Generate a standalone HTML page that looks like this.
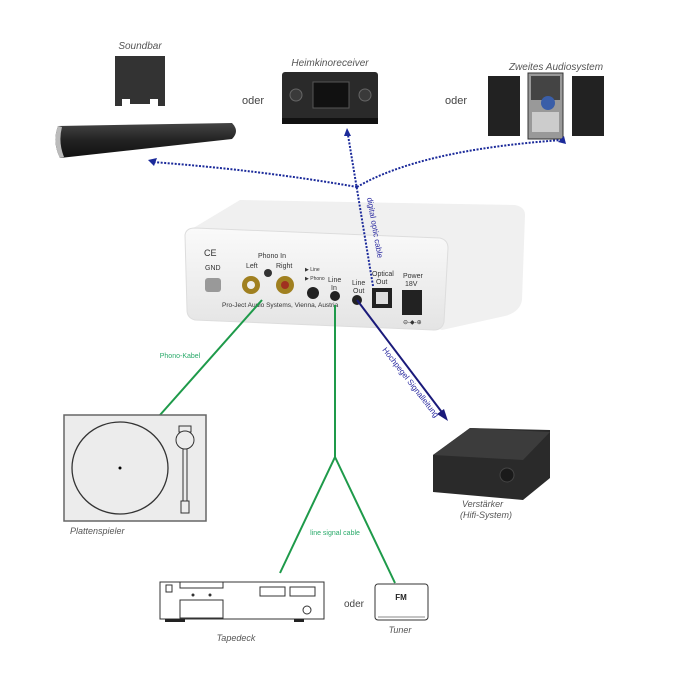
<!DOCTYPE html>
<html><head><meta charset="utf-8"><style>
html,body{margin:0;padding:0;background:#fff;}
svg{display:block;font-family:"Liberation Sans",sans-serif;}
</style></head><body>
<svg width="688" height="688" viewBox="0 0 688 688" xmlns="http://www.w3.org/2000/svg">
<defs>
<linearGradient id="bar" x1="0" y1="0" x2="0" y2="1"><stop offset="0" stop-color="#444"/><stop offset="0.5" stop-color="#222"/><stop offset="1" stop-color="#111"/></linearGradient>
<linearGradient id="box" x1="0" y1="0" x2="0" y2="1"><stop offset="0" stop-color="#fafafa"/><stop offset="1" stop-color="#e4e4e4"/></linearGradient>
</defs>
<g font-style="italic" fill="#555" font-size="10">
<text x="140" y="49" text-anchor="middle">Soundbar</text>
<text x="330" y="66" text-anchor="middle">Heimkinoreceiver</text>
<text x="556" y="70" text-anchor="middle">Zweites Audiosystem</text>
</g>
<text x="253" y="104" font-size="11" fill="#444" text-anchor="middle">oder</text>
<text x="456" y="104" font-size="11" fill="#444" text-anchor="middle">oder</text>
<path d="M115 56 H165 V106 H158 V99 H150 V104 H130 V99 H122 V106 H115 Z" fill="#333"/>
<path d="M58 126 L232 123 Q240 131 232 139 L60 158 Q52 142 58 126 Z" fill="url(#bar)"/>
<path d="M58 126 Q52 142 60 158 L64 157 Q58 142 62 127 Z" fill="#bbb"/>
<rect x="282" y="72" width="96" height="50" rx="3" fill="#2a2a2a"/>
<rect x="282" y="118" width="96" height="6" fill="#111"/>
<rect x="313" y="82" width="36" height="26" fill="#111" stroke="#555" stroke-width="1"/>
<circle cx="296" cy="95" r="6" fill="#3a3a3a" stroke="#666"/>
<circle cx="365" cy="95" r="6" fill="#3a3a3a" stroke="#666"/>
<rect x="488" y="76" width="32" height="60" fill="#222"/>
<rect x="528" y="73" width="35" height="66" fill="#999" stroke="#333"/>
<rect x="531" y="76" width="29" height="24" fill="#444"/>
<circle cx="548" cy="103" r="7" fill="#3a5ea8"/>
<rect x="532" y="112" width="27" height="20" fill="#ccc"/>
<rect x="572" y="76" width="32" height="60" fill="#222"/>
<!-- device -->
<path d="M190 230 L240 200 L515 205 Q525 207 525 215 L522 300 Q520 312 505 316 L442 330 Z" fill="#f0f0f0"/>
<path d="M185 235 Q186 228 195 228 L440 238 Q448 240 448 248 L444 322 Q442 330 434 330 L195 320 Q187 318 187 310 Z" fill="url(#box)" stroke="#ddd"/>
<g font-size="7" fill="#333">
<text x="204" y="256" font-size="9">CE</text>
<text x="205" y="270">GND</text>
<text x="258" y="258">Phono In</text>
<text x="246" y="268">Left</text>
<text x="276" y="268">Right</text>
<text x="305" y="271" font-size="5">▶ Line</text>
<text x="305" y="280" font-size="5">▶ Phono</text>
<text x="328" y="282">Line</text>
<text x="331" y="290">In</text>
<text x="352" y="285">Line</text>
<text x="353" y="293">Out</text>
<text x="372" y="276">Optical</text>
<text x="376" y="284">Out</text>
<text x="403" y="278">Power</text>
<text x="405" y="286">18V</text>
<text x="222" y="307" font-size="6.5">Pro-Ject Audio Systems, Vienna, Austria</text>
</g>
<rect x="205" y="278" width="16" height="14" rx="3" fill="#999"/>
<circle cx="251" cy="285" r="9" fill="#a08020"/><circle cx="251" cy="285" r="4" fill="#eee"/>
<circle cx="285" cy="285" r="9" fill="#a08020"/><circle cx="285" cy="285" r="4" fill="#a03020"/>
<circle cx="268" cy="273" r="4" fill="#333"/>
<circle cx="313" cy="293" r="6" fill="#222"/>
<circle cx="335" cy="296" r="5" fill="#222"/>
<circle cx="357" cy="300" r="5" fill="#222"/>
<rect x="372" y="288" width="20" height="20" fill="#222"/><rect x="376" y="292" width="12" height="12" fill="#ddd"/>
<rect x="402" y="290" width="20" height="25" fill="#222"/>
<text x="403" y="324" font-size="6" fill="#333">⊖-◆-⊕</text>
<!-- dotted blue lines -->
<g fill="none" stroke="#1b2a9a" stroke-width="2" stroke-dasharray="2,1.5">
<path d="M357 187 Q260 170 152 162"/>
<path d="M357 187 Q420 150 562 140"/>
<path d="M373 286 L348 135"/>
</g>
<g fill="#1b2a9a">
<path d="M148 160 L157 158 L154 166 Z"/>
<path d="M347 128 L351 136 L344 136 Z"/>
<path d="M564 136 L566 144 L558 142 Z"/>
</g>
<text transform="translate(367,198) rotate(80)" font-size="8" fill="#2a2aa0">digital optic cable</text>
<!-- green lines -->
<g stroke="#1e9a4a" stroke-width="2" fill="none">
<path d="M262 300 L160 415"/>
<path d="M335 305 L335 457 L280 573"/>
<path d="M335 457 L395 583"/>
</g>
<text x="180" y="358" font-size="7" fill="#2aaa6a" text-anchor="middle">Phono-Kabel</text>
<text x="335" y="535" font-size="7" fill="#2aaa6a" text-anchor="middle">line signal cable</text>
<path d="M357 300 L444 415" stroke="#1a1a7a" stroke-width="2"/>
<path d="M448 421 L437 414 L444 409 Z" fill="#1a1a7a"/>
<text transform="translate(382,350) rotate(52)" font-size="8" fill="#2a2aa0">Hochpegel Signalleitung</text>
<rect x="64" y="415" width="142" height="106" fill="#ececec" stroke="#666" stroke-width="1.5"/>
<ellipse cx="120" cy="468" rx="48" ry="46" fill="#ececec" stroke="#333" stroke-width="1.3"/>
<circle cx="120" cy="468" r="1.5" fill="#000"/>
<rect x="179" y="426" width="12" height="6" fill="#ececec" stroke="#333"/>
<circle cx="185" cy="440" r="9" fill="#ececec" stroke="#333"/>
<rect x="183" y="449" width="4" height="52" fill="#ececec" stroke="#333"/>
<rect x="181" y="501" width="8" height="12" fill="#ececec" stroke="#333"/>
<text x="70" y="534" font-size="9" font-style="italic" fill="#555">Plattenspieler</text>
<path d="M433 455 L470 428 L550 430 L550 478 L523 500 L433 492 Z" fill="#2a2a2a"/>
<path d="M433 455 L523 460 L550 432 L470 428 Z" fill="#3c3c3c"/>
<circle cx="507" cy="475" r="7" fill="#1a1a1a" stroke="#444"/>
<text x="462" y="507" font-size="9" font-style="italic" fill="#555">Verstärker</text>
<text x="460" y="518" font-size="9" font-style="italic" fill="#555">(Hifi-System)</text>
<rect x="160" y="582" width="164" height="37" fill="#fff" stroke="#333"/>
<rect x="166" y="585" width="6" height="7" fill="none" stroke="#333"/>
<path d="M180 582 V588 H223 V582" fill="none" stroke="#333"/>
<rect x="180" y="600" width="43" height="18" fill="none" stroke="#333"/>
<circle cx="193" cy="595" r="1.5" fill="#333"/><circle cx="210" cy="595" r="1.5" fill="#333"/>
<rect x="260" y="587" width="25" height="9" fill="none" stroke="#333"/>
<rect x="290" y="587" width="25" height="9" fill="none" stroke="#333"/>
<circle cx="307" cy="610" r="4" fill="none" stroke="#333"/>
<rect x="165" y="619" width="20" height="3" fill="#222"/><rect x="294" y="619" width="10" height="3" fill="#222"/>
<text x="236" y="641" font-size="9" font-style="italic" fill="#555" text-anchor="middle">Tapedeck</text>
<text x="354" y="607" font-size="10" fill="#444" text-anchor="middle">oder</text>
<rect x="375" y="584" width="53" height="36" rx="3" fill="#fff" stroke="#333"/>
<text x="401" y="600" font-size="8" font-weight="bold" fill="#222" text-anchor="middle">FM</text>
<path d="M378 617 H425" stroke="#888"/>
<text x="400" y="633" font-size="9" font-style="italic" fill="#555" text-anchor="middle">Tuner</text>
</svg>
</body></html>
